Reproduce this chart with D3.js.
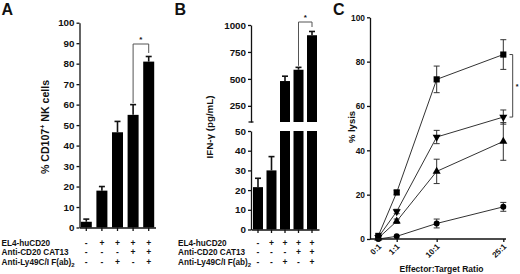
<!DOCTYPE html>
<html>
<head>
<meta charset="utf-8">
<script src="https://cdn.jsdelivr.net/npm/d3@7"></script>
<style>
  html, body { margin: 0; padding: 0; background: #fff; }
  svg { display: block; }
  text { font-family: "Liberation Sans", Arial, Helvetica, sans-serif; font-weight: bold; fill: #111; }
</style>
</head>
<body>
<svg id="chart" width="520" height="274"></svg>
<script>
// ---------- DATA ----------
const conditions = ["c1", "c2", "c3", "c4", "c5"];
const rowLabels = ["EL4-huCD20", "Anti-CD20 CAT13", "Anti-Ly49C/I F(ab)"];
const rowSigns = [
  ["-", "+", "+", "+", "+"],
  ["-", "-", "-", "+", "+"],
  ["-", "-", "+", "-", "+"]
];
const cd107Values = [2.8, 18, 46.5, 55, 81];
const cd107Errors = [1.3, 2, 5.3, 5, 2.5];
const cd107Ticks = [0, 10, 20, 30, 40, 50, 60, 70, 80, 90, 100];

const ifngValues = [21.5, 30, 480, 585, 905];
const ifngErrors = [4.5, 7, 45, 22, 35];
const ifngLowerTicks = [0, 10, 20, 30, 40, 50];
const ifngUpperTicks = [250, 500, 750, 1000];

const ratioLabels = ["0:1", "1:1", "10:1", "25:1"];
const ratioValues = [0, 1, 10, 25];
const lysisSquare = [1.4, 21, 72, 83.2];
const lysisSquareErr = [0, 1, 6, 6.7];
const lysisInvTriangle = [0.8, 12.4, 46, 55];
const lysisInvTriangleErr = [0, 1, 3, 3.2];
const lysisTriangle = [0.4, 8, 30.5, 44];
const lysisTriangleErr = [0, 1, 5.5, 8.5];
const lysisCircle = [0, 1.2, 7, 14.5];
const lysisCircleErr = [0, 0, 2, 2];
const lysisTicks = [0, 20, 40, 60, 80, 100];

// ---------- DRAW ----------
const svg = d3.select("#chart");
svg.append("rect").attr("width", 520).attr("height", 274).attr("fill", "#fff");
const ink = "#111";
const intFmt = d3.format("d");

function styleAxis(g, fs) {
  g.selectAll("path.domain").attr("stroke", ink).attr("stroke-width", 1.3);
  g.selectAll(".tick line").attr("stroke", ink).attr("stroke-width", 1.3);
  g.selectAll(".tick text").attr("font-size", fs).attr("fill", ink)
    .attr("font-family", '"Liberation Sans", Arial, sans-serif').attr("font-weight", "bold");
}

function panelLetter(t, x, y) {
  svg.append("text").attr("x", x).attr("y", y).attr("font-size", 16).text(t);
}

function conditionRows(xScale, labelX) {
  const baselines = [245.5, 254.5, 264.5];
  rowLabels.forEach((lab, i) => {
    const t = svg.append("text").attr("x", labelX).attr("y", baselines[i]).attr("font-size", 8.2).text(lab);
    if (i === 2) t.append("tspan").attr("font-size", 6).attr("dy", 2.5).text("2");
    rowSigns[i].forEach((s, j) => {
      svg.append("text")
        .attr("x", xScale(conditions[j]) + xScale.bandwidth() / 2)
        .attr("y", baselines[i])
        .attr("text-anchor", "middle").attr("font-size", 8.5).text(s);
    });
  });
}

function errBar(x, yBase, yTop, cap, sw) {
  svg.append("line").attr("x1", x).attr("x2", x).attr("y1", yBase).attr("y2", yTop)
    .attr("stroke", ink).attr("stroke-width", sw);
  svg.append("line").attr("x1", x - cap / 2).attr("x2", x + cap / 2).attr("y1", yTop).attr("y2", yTop)
    .attr("stroke", ink).attr("stroke-width", sw);
}

function bracket(x1, y1, x2, y2, yTopLine, starX, starY) {
  svg.append("path")
    .attr("d", `M${x1},${y1}V${yTopLine}H${x2}V${y2}`)
    .attr("fill", "none").attr("stroke", "#555").attr("stroke-width", 1);
  svg.append("text").attr("x", starX).attr("y", starY).attr("text-anchor", "middle")
    .attr("font-size", 8).attr("fill", "#333").text("*");
}

// ===== Panel A =====
panelLetter("A", 1.5, 14.5);
const xA = d3.scaleBand().domain(conditions).range([79.5, 155.5]).paddingInner(0.295).paddingOuter(0.083);
const yA = d3.scaleLinear().domain([0, 100]).range([227.5, 22.7]);

svg.selectAll("rect.barA").data(cd107Values).enter().append("rect")
  .attr("class", "barA")
  .attr("x", (d, i) => xA(conditions[i]))
  .attr("width", xA.bandwidth())
  .attr("y", d => yA(d))
  .attr("height", d => yA(0) - yA(d))
  .attr("fill", "#000");
cd107Values.forEach((v, i) => {
  const cx = xA(conditions[i]) + xA.bandwidth() / 2;
  errBar(cx, yA(v), yA(v + cd107Errors[i]), 6, 1.6);
});

const gAy = svg.append("g").attr("transform", "translate(79.5,0)")
  .call(d3.axisLeft(yA).tickValues(cd107Ticks).tickFormat(intFmt).tickSize(3).tickSizeOuter(0).tickPadding(2));
styleAxis(gAy, 9.8);
const gAx = svg.append("g").attr("transform", `translate(0,${yA(0)})`)
  .call(d3.axisBottom(xA).tickSize(3.5).tickSizeOuter(0).tickFormat(""));
styleAxis(gAx, 9);

svg.append("text").attr("transform", `translate(48.5,127) rotate(-90)`)
  .attr("text-anchor", "middle").attr("font-size", 10.6)
  .call(t => {
    t.append("tspan").text("% CD107");
    t.append("tspan").attr("font-size", 7).attr("dy", -4).text("+");
    t.append("tspan").attr("dy", 4).text(" NK cells");
  });

{
  const x4 = xA(conditions[3]) + xA.bandwidth() / 2;
  const x5 = xA(conditions[4]) + xA.bandwidth() / 2;
  bracket(x4, yA(cd107Values[3] + cd107Errors[3]) - 1.5, x5, 53, 44, (x4 + x5) / 2, 42);
}
conditionRows(xA, 1.5);

// ===== Panel B =====
panelLetter("B", 174.5, 14.5);
const xB = d3.scaleBand().domain(conditions).range([251, 319]).paddingInner(0.26).paddingOuter(0.148);
const yBlow = d3.scaleLinear().domain([0, 50]).range([229.5, 131]);
const yBup = d3.scaleLinear().domain([100, 1000]).range([122, 25]);

ifngValues.forEach((v, i) => {
  const x = xB(conditions[i]);
  const w = xB.bandwidth();
  const cx = x + w / 2;
  if (v <= 50) {
    svg.append("rect").attr("x", x).attr("width", w).attr("y", yBlow(v))
      .attr("height", yBlow(0) - yBlow(v)).attr("fill", "#000");
    errBar(cx, yBlow(v), yBlow(v + ifngErrors[i]), 6, 1.6);
  } else {
    svg.append("rect").attr("x", x).attr("width", w).attr("y", yBlow(50))
      .attr("height", yBlow(0) - yBlow(50)).attr("fill", "#000");
    svg.append("rect").attr("x", x).attr("width", w).attr("y", yBup(v))
      .attr("height", yBup(100) - yBup(v)).attr("fill", "#000");
    errBar(cx, yBup(v), yBup(v + ifngErrors[i]), 6, 1.6);
  }
});

const gBlow = svg.append("g").attr("transform", "translate(251,0)")
  .call(d3.axisLeft(yBlow).tickValues(ifngLowerTicks).tickFormat(intFmt).tickSize(3).tickSizeOuter(0).tickPadding(2));
styleAxis(gBlow, 9.8);
const gBup = svg.append("g").attr("transform", "translate(251,0)")
  .call(d3.axisLeft(yBup).tickValues(ifngUpperTicks).tickFormat(intFmt).tickSize(3).tickSizeOuter(0).tickPadding(2));
styleAxis(gBup, 9.8);
// break caps
svg.append("line").attr("x1", 248.5).attr("x2", 253.5).attr("y1", yBup(100)).attr("y2", yBup(100))
  .attr("stroke", ink).attr("stroke-width", 1.3);
const gBx = svg.append("g").attr("transform", `translate(0,${yBlow(0)})`)
  .call(d3.axisBottom(xB).tickSize(3.5).tickSizeOuter(0).tickFormat(""));
styleAxis(gBx, 9);

svg.append("text").attr("transform", `translate(213,127) rotate(-90)`)
  .attr("text-anchor", "middle").attr("font-size", 9.8).text("IFN-γ (pg/mL)");

{
  const x4 = xB(conditions[3]) + xB.bandwidth() / 2;
  const x5 = xB(conditions[4]) + xB.bandwidth() / 2;
  bracket(x4, yBup(ifngValues[3] + ifngErrors[3]) - 1.5, x5, 27, 22, (x4 + x5) / 2, 20);
}
conditionRows(xB, 178);

// ===== Panel C =====
panelLetter("C", 333, 14.5);
const xC = d3.scaleLinear().domain([0, 1, 25]).range([378.3, 396.7, 503.3]);
const yC = d3.scaleLinear().domain([0, 100]).range([239, 17.3]);

const series = [
  { vals: lysisSquare, errs: lysisSquareErr, sym: d3.symbolSquare, size: 38, rot: 0 },
  { vals: lysisInvTriangle, errs: lysisInvTriangleErr, sym: d3.symbolTriangle, size: 28, rot: 180 },
  { vals: lysisTriangle, errs: lysisTriangleErr, sym: d3.symbolTriangle, size: 28, rot: 0 },
  { vals: lysisCircle, errs: lysisCircleErr, sym: d3.symbolCircle, size: 28, rot: 0 }
];

const line = d3.line().x((d, i) => xC(ratioValues[i])).y(d => yC(d));
series.forEach(s => {
  svg.append("path").attr("d", line(s.vals)).attr("fill", "none")
    .attr("stroke", "#333").attr("stroke-width", 1);
  s.vals.forEach((v, i) => {
    const e = s.errs[i];
    if (e > 0) {
      const x = xC(ratioValues[i]);
      svg.append("line").attr("x1", x).attr("x2", x).attr("y1", yC(v - e)).attr("y2", yC(v + e))
        .attr("stroke", "#333").attr("stroke-width", 1);
      [v - e, v + e].forEach(yy => {
        svg.append("line").attr("x1", x - 3).attr("x2", x + 3).attr("y1", yC(yy)).attr("y2", yC(yy))
          .attr("stroke", "#333").attr("stroke-width", 1);
      });
    }
  });
});
series.forEach(s => {
  s.vals.forEach((v, i) => {
    svg.append("path")
      .attr("d", d3.symbol().type(s.sym).size(s.size)())
      .attr("transform", `translate(${xC(ratioValues[i])},${yC(v)}) rotate(${s.rot})`)
      .attr("fill", "#000");
  });
});

const gCy = svg.append("g").attr("transform", "translate(370,0)")
  .call(d3.axisLeft(yC).tickValues(lysisTicks).tickFormat(intFmt).tickSize(3).tickSizeOuter(0).tickPadding(2));
styleAxis(gCy, 8.4);
svg.append("line").attr("x1", 370).attr("x2", 506).attr("y1", yC(0)).attr("y2", yC(0))
  .attr("stroke", ink).attr("stroke-width", 1.3);
const gCx = svg.append("g").attr("transform", `translate(0,${yC(0)})`)
  .call(d3.axisBottom(xC).tickValues(ratioValues).tickSize(3).tickFormat((d, i) => ratioLabels[i]));
gCx.select("path.domain").remove();
styleAxis(gCx, 8);
gCx.selectAll(".tick text")
  .attr("x", 0).attr("y", 0).attr("dy", 0)
  .attr("text-anchor", "end")
  .attr("transform", "translate(3,8) rotate(-45)");

svg.append("text").attr("transform", `translate(355,127) rotate(-90)`)
  .attr("text-anchor", "middle").attr("font-size", 9.5).text("% lysis");
svg.append("text").attr("x", 441.5).attr("y", 271.5).attr("text-anchor", "middle")
  .attr("font-size", 8.5).text("Effector:Target Ratio");

// significance bracket C
svg.append("path").attr("d", `M509.5,${yC(83.2)}H512.7V${yC(55)}H509.5`)
  .attr("fill", "none").attr("stroke", "#444").attr("stroke-width", 1);
svg.append("text").attr("x", 517).attr("y", 89).attr("text-anchor", "middle")
  .attr("font-size", 7).attr("fill", "#333").text("*");
</script>
</body>
</html>
